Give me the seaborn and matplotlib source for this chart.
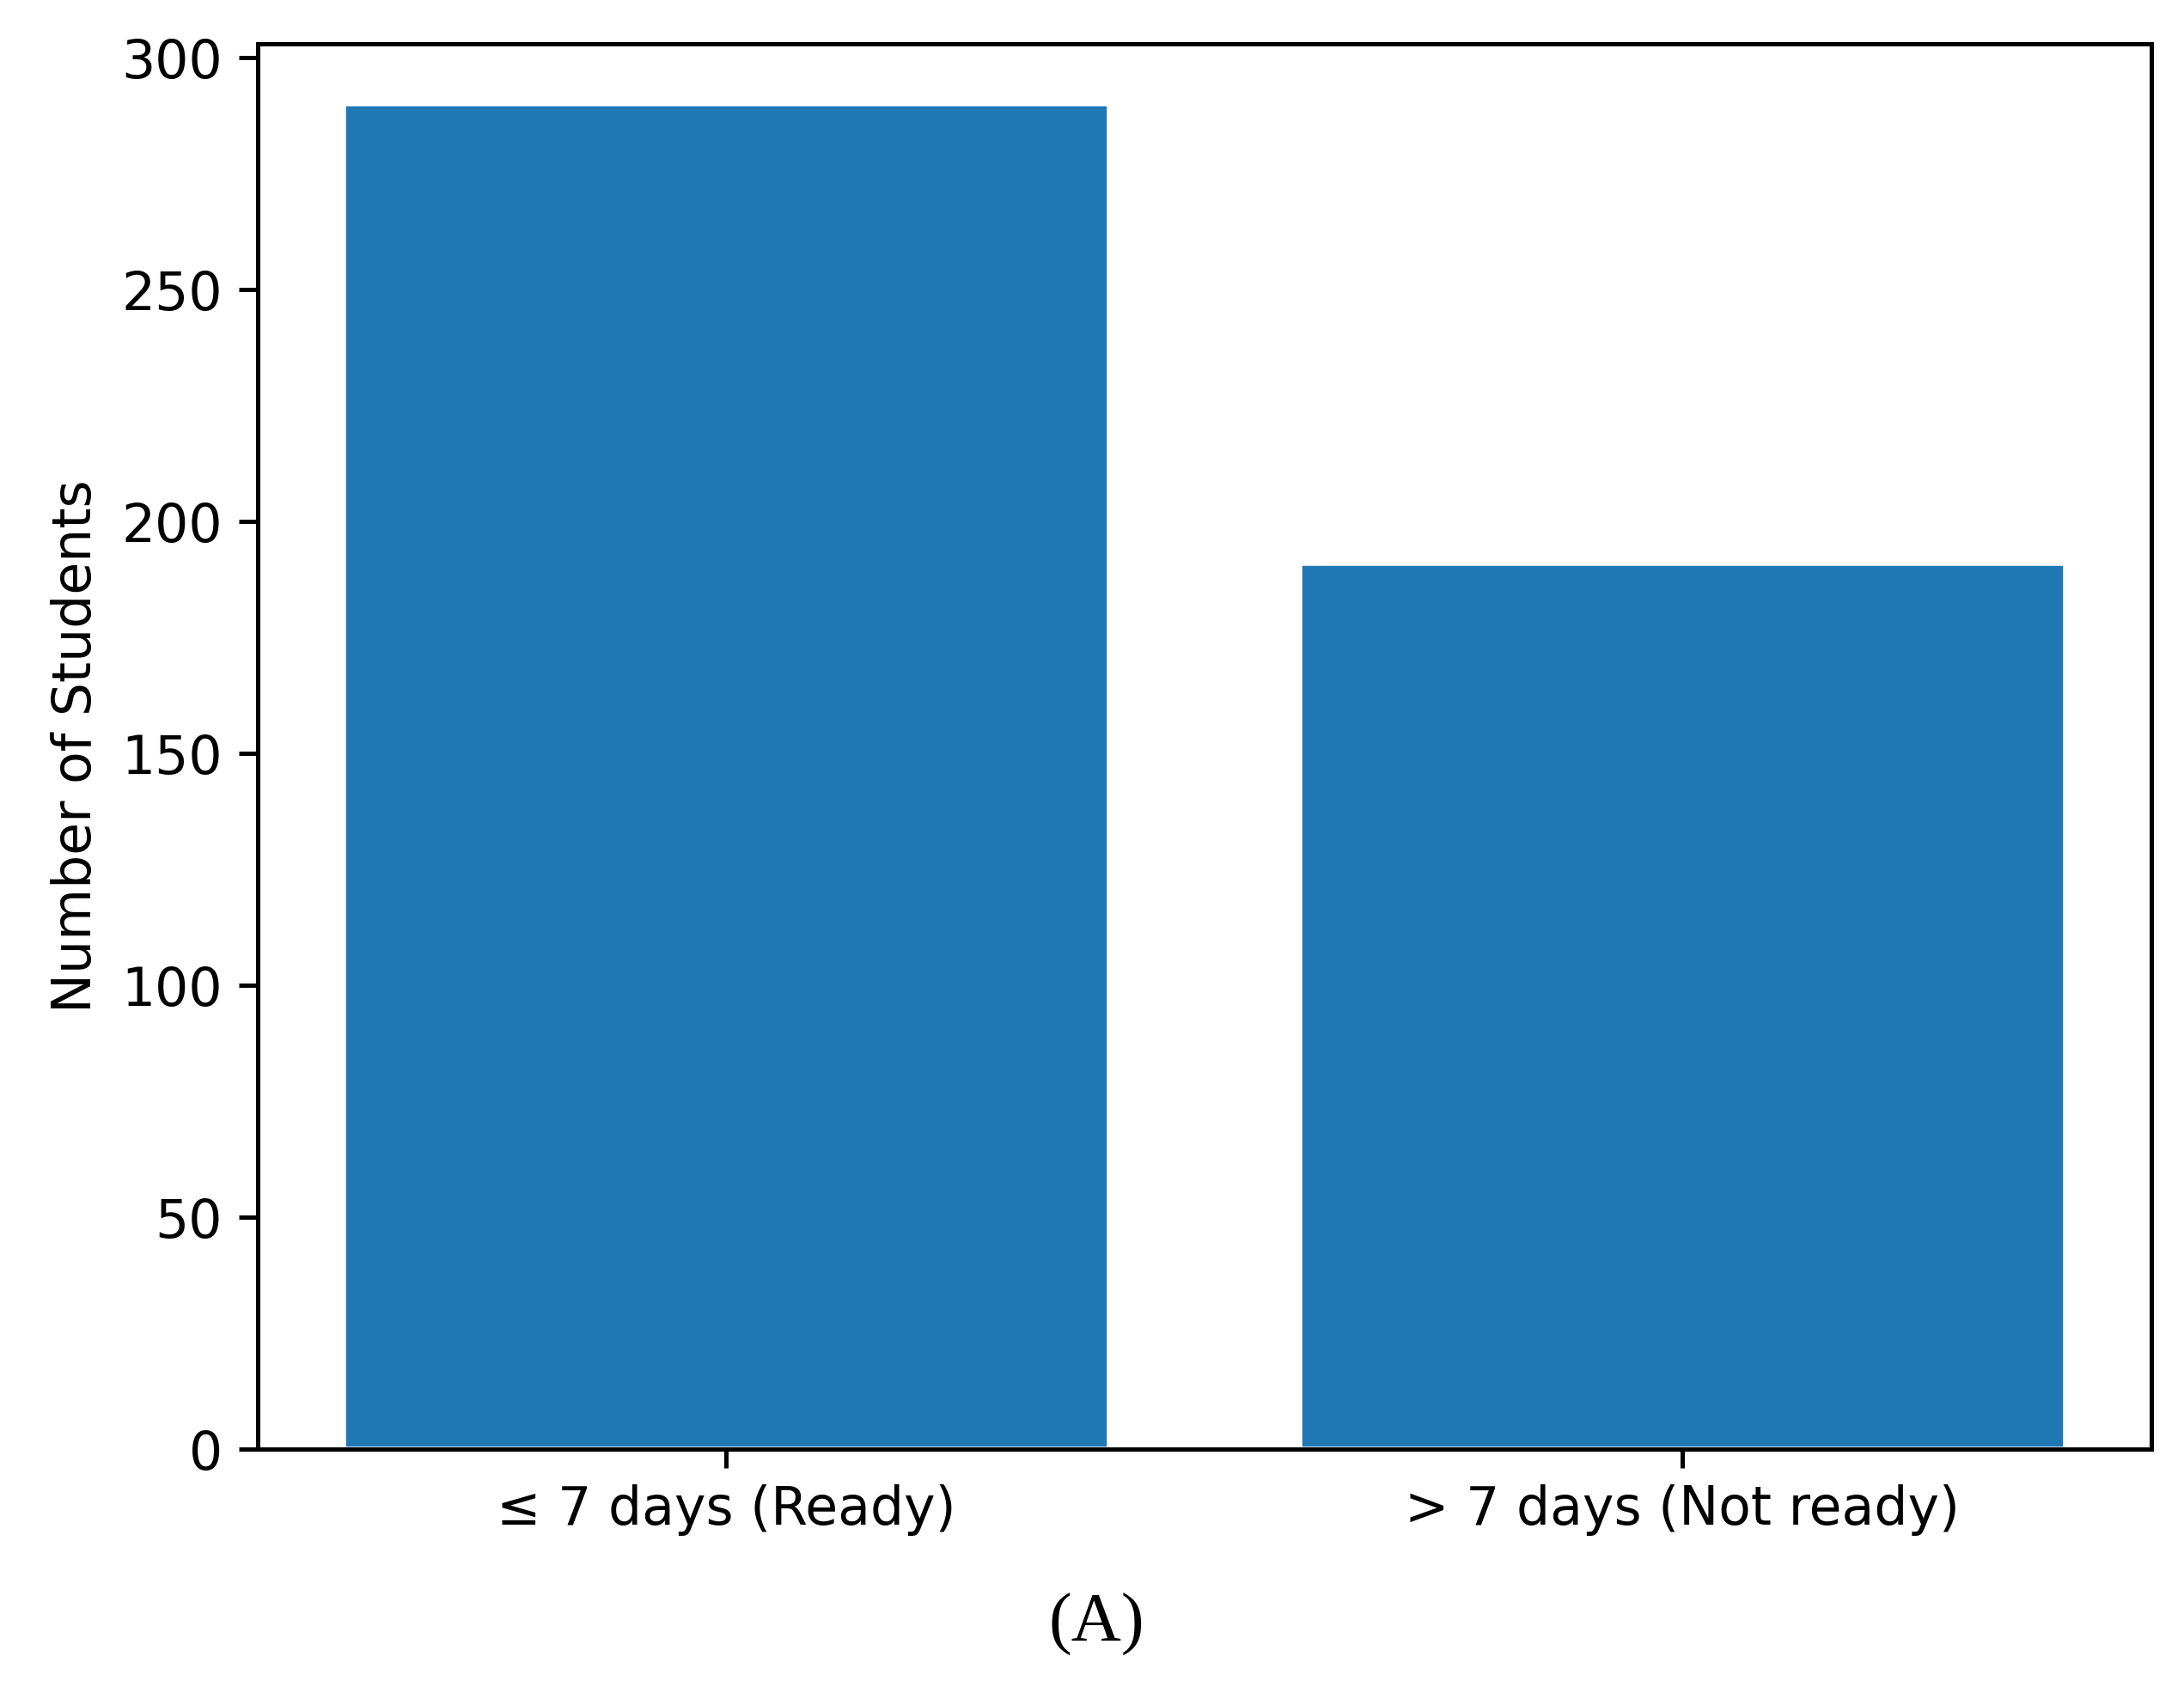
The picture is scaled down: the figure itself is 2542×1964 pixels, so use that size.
import matplotlib
matplotlib.use("Agg")
import matplotlib.pyplot as plt
import seaborn as sns
import pandas as pd

# --- data ---
categories = ["\u2264 7 days (Ready)", "> 7 days (Not ready)"]
counts = [290, 191]
caption = "(A)"

df = pd.DataFrame({"group": categories, "students": counts})

sns.set_style("ticks")
plt.rcParams['font.family'] = ['DejaVu Sans']
plt.rcParams['text.color'] = 'black'
plt.rcParams['axes.labelcolor'] = 'black'
plt.rcParams['xtick.color'] = 'black'
plt.rcParams['ytick.color'] = 'black'

fig = plt.figure(figsize=(6.355, 4.91), dpi=400)
ax = fig.add_axes([0.118, 0.141, 0.867, 0.833])

sns.barplot(data=df, x="group", y="students", color="#1f77b4",
            saturation=1, width=0.8, ax=ax)

ax.set_xlim(-0.49, 1.49)
ax.set_ylim(0, 303)
ax.set_yticks([0, 50, 100, 150, 200, 250, 300])
ax.set_xlabel("")
ax.set_ylabel("Number of Students", fontsize=11.1)
ax.tick_params(labelsize=11.1, width=0.9, length=3.9, colors="black")
for s in ax.spines.values():
    s.set_visible(True)
    s.set_linewidth(0.9)
    s.set_color("black")

fig.text(0.502, 0.037, caption, ha="center", va="center", color="black",
         fontsize=14.5, family=["Liberation Serif", "DejaVu Serif"])

fig.savefig("out.png", dpi=400)
